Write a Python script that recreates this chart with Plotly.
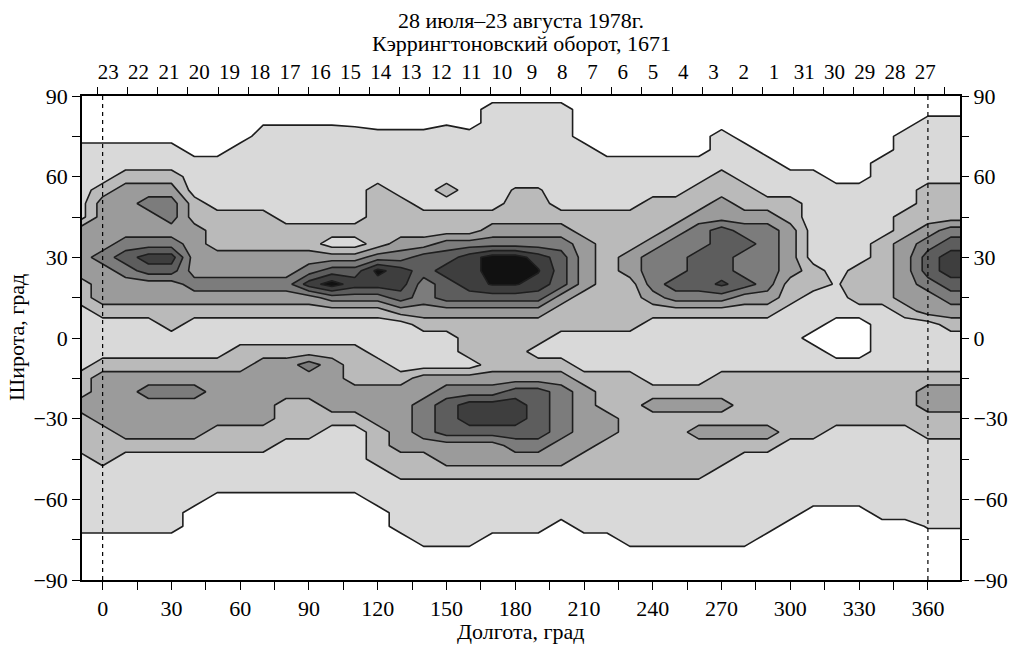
import numpy as np
import plotly.graph_objects as go

# ---------------- data ----------------
LON = list(range(-10, 381, 10))          # grid longitudes, deg
LAT = list(range(90, -91, -5))           # grid latitudes, deg (north -> south)

# contour level (0 = white ... 7 = black) at each grid node, one string per longitude,
# listed from lat 90 down to lat -90 (spaces only group the digits)
LEVEL_COLUMNS = {
    -10: "0000 111111 3333 22 11111 22 3 222 111111 0000",
    0:   "0000 111 2 3333 4 333 2 111 2 3333 222 11111 0000",
    10:  "0000 11 2 3333 4 5 4 33 2 111 2 33333 2 111111 0000",
    20:  "0000 11 2 3 4 33 4 6 5 33 2 111 2 3 4 333 2 111111 0000",
    30:  "0000 11 2 3 44 3 4 6 5 33 22 11 2 3 4 333 2 111111 0000",
    40:  "00000 111 22 3333 4 3 2 111 2 3 4 333 2 1111 000000",
    50:  "00000 1111 222 33 4 3 2 111 2 3333 22 111 0000000",
    60:  "0000 1 1111 222 33 4 3 2 11 22 3333 22 111 0000000",
    70:  "000 111111 222 33 4 3 2 11 2 3333 3 22 111 0000000",
    80:  "000 1111111 22 33 4 3 2 11 2 333 222 1111 0000000",
    90:  "000 1111111 22 3 4 6 3 2 11 2 4 33 222 1111 0000000",
    100: "000 1111111 2 1 3 5 7 4 2 11 2 3333 2 11111 0000000",
    110: "000 1111111 2 1 3 5 6 4 2 11 222 33 2 11111 0000000",
    120: "000 1111 22222 4 6 6 4 2 111 22 333 222 111 000000",
    130: "000 1111 1 2 2 2 3 4 6 6 5 3 111 1 2 33333 22 1111 0000",
    140: "000 11111 1 2 2 3 5 5 4 4 3 2 111 3 3 444 3 2 2 11111 000",
    150: "000 1111 2 1 2 2 4 5 6 5 5 3 2 111 3 4 555 33 2 11111 000",
    160: "000 11111 1 2 2 4 6 6 6 5 3 2 22 1 3 4 66 5 33 2 11111 000",
    170: "0 11111111 2 3 4 7 7 6 5 3 2222 3 4 66 5 33 2 1111 0000",
    180: "0 1111111 2 2 3 4 7 7 6 5 3 2222 3 5 66 5 4 3 2 1111 0000",
    190: "0 1111111 2 2 3 4 6 6 6 5 3 2 2 1 2 3 5555 4 3 2 1111 0000",
    200: "0 1111111 1 2 3 4 5 5 5 3 2 2 1 1 2 3 4444 33 2 111 00000",
    210: "0000 11111 2 2 3333 222 111 2 33333 22 1111 0000",
    220: "00000 1111 222222222 111 222 33 222 1111 0000",
    230: "00000 1111 222 33 2222 111 22222222 11111 000",
    240: "00000 111 2 2 2 3 4 4 4 3 2 1 1111 2 3 2222 2 11111 000",
    250: "00000 111 2 2 3 4 4 4 5 4 2 1 1111 2 3 22222 11111 000",
    260: "00000 11 2 2 3 4 4 5 5 5 4 2 1 1111 2 3 2 3 222 11111 000",
    270: "000 111 2 2 3 3 5 5 5 5 5 4 2 1 111 22 3 2 3 22 111111 000",
    280: "0000 111 2 2 3 4 5 4 4 5 3 2 1 111 2222 3 2 1111111 000",
    290: "00000 111 2 3 44444 3 2 1 111 2222 3 2 111111 0000",
    300: "000000 11 2 2 3333 22 1 111 1 22222 111111 00000",
    310: "000000 1 111111 22 1 11 0 11 22222 11111 000000",
    320: "0000000 11111111 11 000 1 2222 111111 000000",
    330: "0000000 111111 222 1 000 1 2222 111111 000000",
    340: "00000 111111 22222 11111 2222 1111111 00000",
    350: "000 1 1111 1 22 3 3333 2 1111 2222 1111111 00000",
    360: "00 1 1111 2 22 3 4 5 5 4 3 3 1 111 2 33 22 1111111 0000",
    370: "00 1 1111 2 22 4 5 6 6 5 4 3 2 1 11 2 33 22 1111111 0000",
    380: "00 1 1111 2 22 4 5 6 6 5 4 3 2 1 11 2 33 22 1111111 0000",
}
# (lon, lat, value) nodes that sit between two levels
FINE_VALUES = [(120, 25, 6.8), (170, 20, 6.6), (180, 20, 6.6), (190, 25, 6.6),
               (270, 20, 5.7), (320, 20, 1.4),
               (70, 80, 0.4), (80, 80, 0.4), (90, 80, 0.4), (100, 80, 0.4),
               (110, 80, 0.3), (150, 80, 0.4),
               (180, 55, 1.6), (190, 55, 1.6),
               (360, -70, 0.6), (370, -70, 0.6), (380, -70, 0.6)]

LEVEL_COLORS = ["#ffffff", "#d9d9d9", "#bababa", "#9b9b9b",
                "#7c7c7c", "#5d5d5d", "#3e3e3e", "#111111"]

X_TICK_VALUES = list(range(0, 361, 15))
Y_TICK_VALUES = list(range(-90, 91, 15))
CARRINGTON_DAYS = [23, 22, 21, 20, 19, 18, 17, 16, 15, 14, 13, 12, 11, 10, 9, 8, 7,
                   6, 5, 4, 3, 2, 1, 31, 30, 29, 28, 27]
TITLE_LINE1 = "28 июля–23 августа 1978г."
TITLE_LINE2 = "Кэррингтоновский оборот, 1671"
X_TITLE = "Долгота, град"
Y_TITLE = "Широта, град"

# ---------------- build grid ----------------
z = np.zeros((len(LAT), len(LON)))
for j, lon in enumerate(LON):
    s = LEVEL_COLUMNS[lon].replace(" ", "")
    assert len(s) == len(LAT), (lon, len(s))
    z[:, j] = [int(c) for c in s]
for lon, lat, v in FINE_VALUES:
    z[LAT.index(lat), LON.index(lon)] = v

n = len(LEVEL_COLORS) - 1
colorscale = []
for k, c in enumerate(LEVEL_COLORS):
    lo = max(0.0, (k - 0.5) / n)
    hi = min(1.0, (k + 0.5) / n)
    colorscale.append([lo, c])
    colorscale.append([hi, c])

FONT = "Liberation Serif, Times New Roman, serif"
FS = 22
XR = [-9, 374]
YR = [-90, 90]
W, H = 1013, 646
ML, MR, MT, MB = 82, 53, 96, 66

# Carrington day axis (one day = 360/27.2753 deg of longitude)
DEG_PER_DAY = 360 / 27.2753
day_label_lon = [2.5 + i * DEG_PER_DAY for i in range(len(CARRINGTON_DAYS))]
day_tick_lon = [-2.4 + i * DEG_PER_DAY for i in range(len(CARRINGTON_DAYS) + 1)]

fig = go.Figure()
fig.add_trace(go.Contour(
    x=LON, y=LAT, z=z,
    autocontour=False,
    contours=dict(start=0.5, end=6.5, size=1, coloring="fill", showlines=True),
    line=dict(color="#1e1e1e", width=1.6, smoothing=0),
    colorscale=colorscale, showscale=False, hoverinfo="skip",
))
# helper traces so that the extra axes are drawn
fig.add_trace(go.Scatter(x=[None], y=[None], xaxis="x2", yaxis="y", showlegend=False, hoverinfo="skip"))
fig.add_trace(go.Scatter(x=[None], y=[None], xaxis="x3", yaxis="y", showlegend=False, hoverinfo="skip"))
fig.add_trace(go.Scatter(x=[None], y=[None], xaxis="x", yaxis="y2", showlegend=False, hoverinfo="skip"))

for xv in (0, 360):
    fig.add_shape(type="line", x0=xv, x1=xv, y0=YR[0], y1=YR[1], xref="x", yref="y",
                  line=dict(color="black", width=1.2, dash="4px,4px"), layer="above")

xt_text = [str(v) if v % 30 == 0 else "" for v in X_TICK_VALUES]
yt_text = [(str(v).replace("-", "\u2212") if v % 30 == 0 else "") for v in Y_TICK_VALUES]

axis_common = dict(showgrid=False, zeroline=False, ticks="outside", ticklen=8, tickwidth=1,
                   tickcolor="black", automargin=False,
                   tickfont=dict(family=FONT, size=FS, color="black"))

fig.update_layout(
    template="none",
    width=W, height=H,
    margin=dict(l=ML, r=MR, t=MT, b=MB, pad=0),
    paper_bgcolor="white", plot_bgcolor="white",
    font=dict(family=FONT, size=FS, color="black"),
    showlegend=False,
    xaxis=dict(range=XR, tickmode="array", tickvals=X_TICK_VALUES, ticktext=xt_text,
               showline=True, linecolor="black", linewidth=1.5, mirror=True,
               **axis_common),
    xaxis2=dict(range=XR, overlaying="x", side="top", anchor="y", tickmode="array",
                tickvals=day_tick_lon, showticklabels=False, showline=False, **axis_common),
    xaxis3=dict(range=XR, overlaying="x", side="top", anchor="y", tickmode="array",
                tickvals=day_label_lon, ticktext=[str(d) for d in CARRINGTON_DAYS],
                showline=False,
                **{**axis_common, "tickcolor": "rgba(0,0,0,0)",
                   "tickfont": dict(family=FONT, size=21, color="black")}),
    yaxis=dict(range=YR, tickmode="array", tickvals=Y_TICK_VALUES, ticktext=yt_text,
               showline=True, linecolor="black", linewidth=1.5, mirror=True,
               **axis_common),
    yaxis2=dict(range=YR, overlaying="y", side="right", anchor="x", tickmode="array",
                tickvals=Y_TICK_VALUES, ticktext=yt_text, showline=False, **axis_common),
)

ph = H - MT - MB
pw = W - ML - MR
def py(ypix):
    return 1 + (MT - ypix) / ph
def px(xpix):
    return (xpix - ML) / pw

fig.update_layout(annotations=[
    dict(text=TITLE_LINE1, x=0.5, xref="paper", y=py(20), yref="paper", yanchor="middle",
         showarrow=False, font=dict(family=FONT, size=FS)),
    dict(text=TITLE_LINE2, x=0.5, xref="paper", y=py(44), yref="paper", yanchor="middle",
         showarrow=False, font=dict(family=FONT, size=FS)),
    dict(text=X_TITLE, x=0.5, xref="paper", y=py(631), yref="paper", yanchor="middle",
         showarrow=False, font=dict(family=FONT, size=FS)),
    dict(text=Y_TITLE, x=px(16), xref="paper", y=0.5, yref="paper", xanchor="center",
         yanchor="middle", textangle=-90, showarrow=False, font=dict(family=FONT, size=FS)),
])

fig.write_html("out.html")
